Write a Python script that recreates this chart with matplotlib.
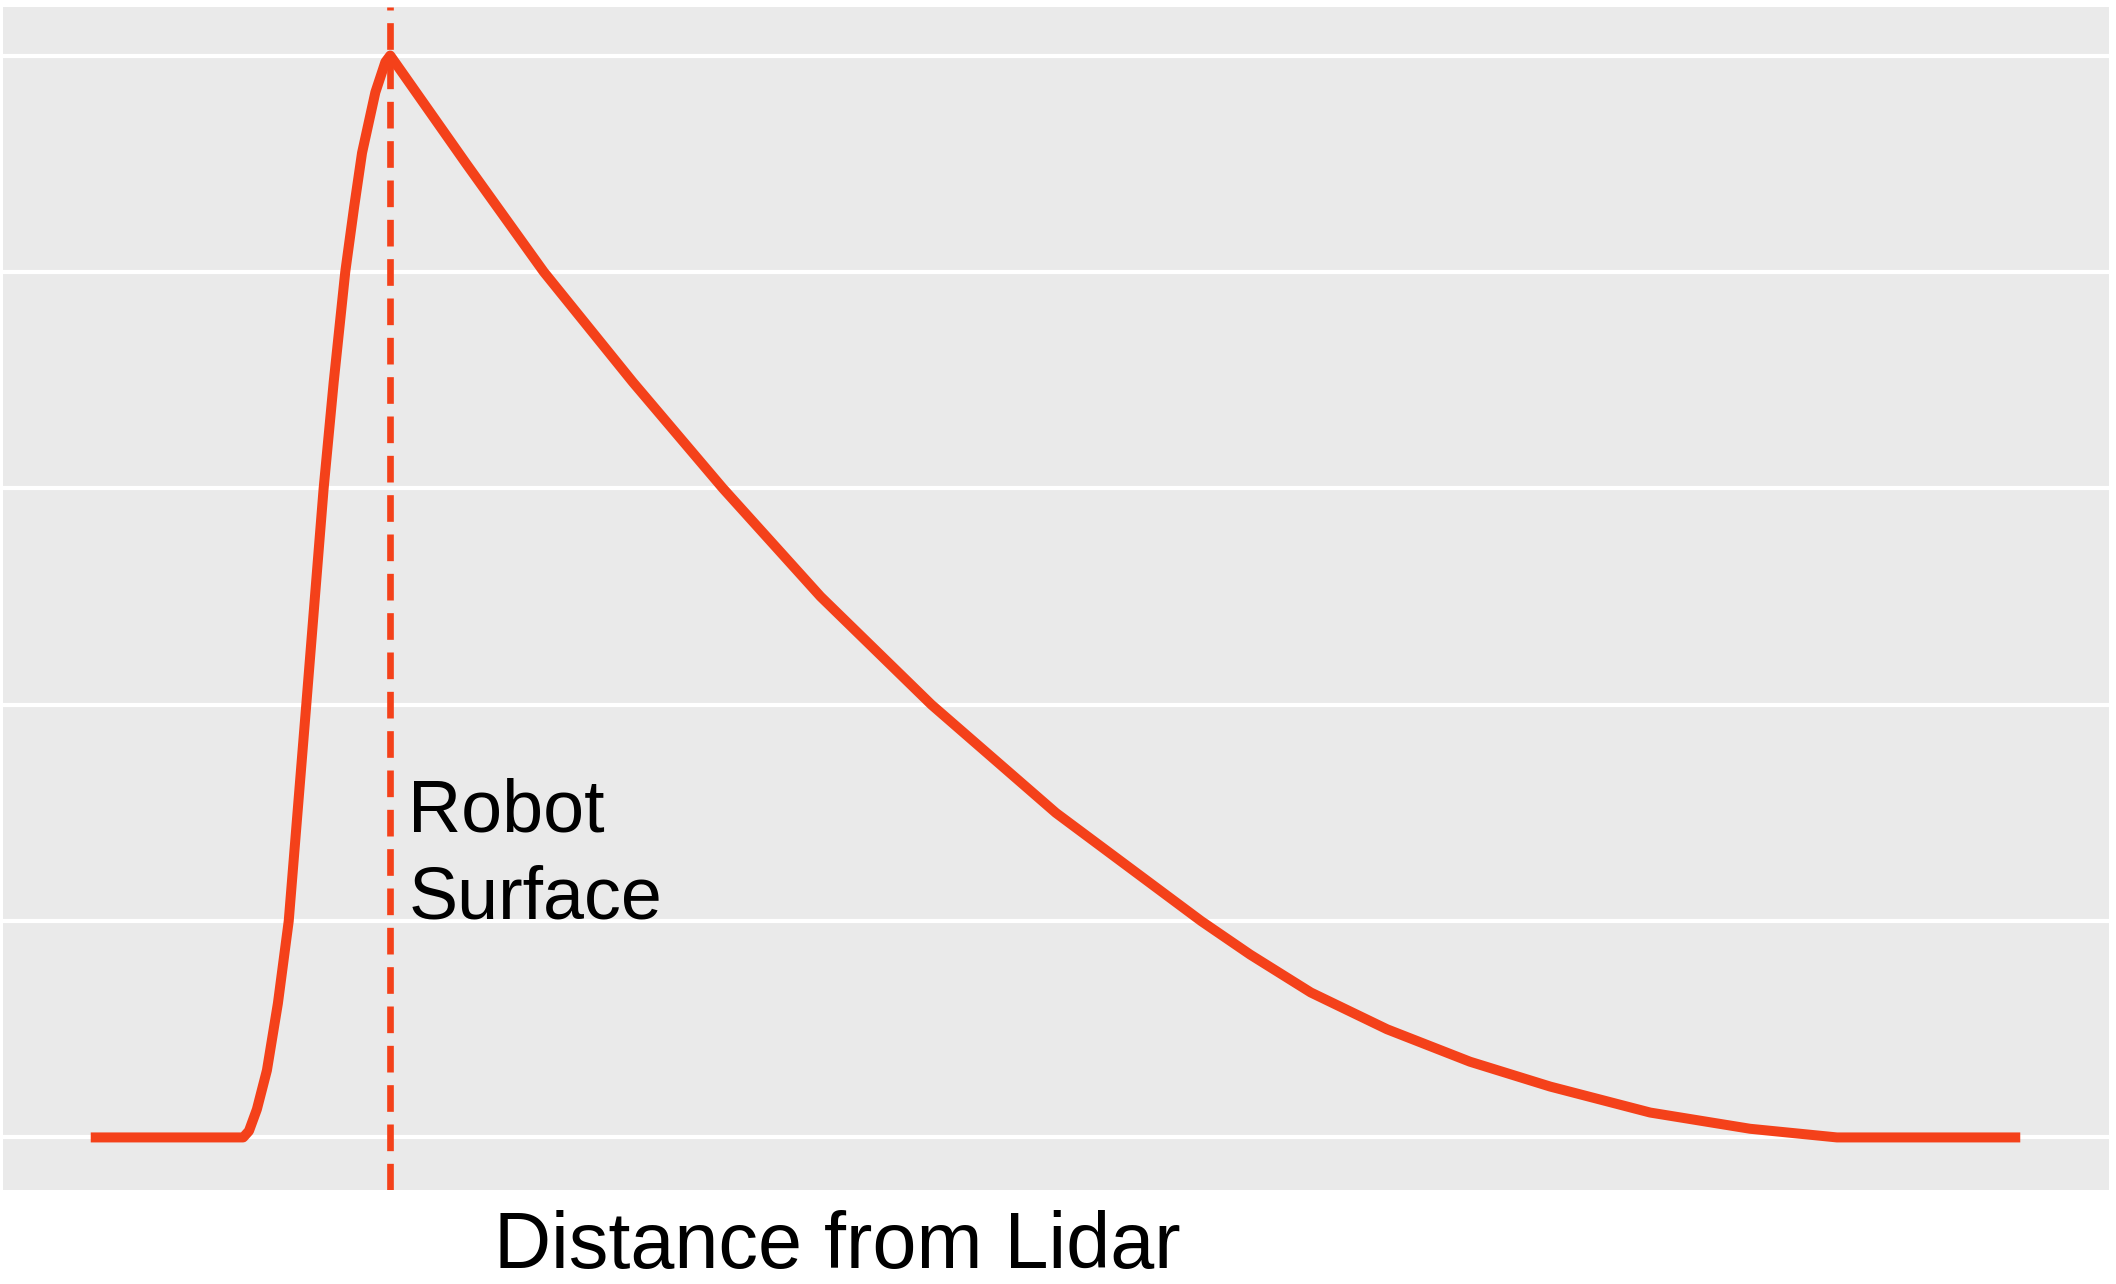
import numpy as np
import matplotlib
matplotlib.use("Agg")
import matplotlib.pyplot as plt

#-----Data-----#
# rising edge of the return pulse
RiseX = [0.00, 0.79, 0.82, 0.861, 0.913, 0.97, 1.026, 1.117, 1.207, 1.259, 1.319, 1.365, 1.406, 1.475, 1.527, 1.552]
RiseY = [0.00, 0.00, 0.03, 0.13, 0.31, 0.62, 1.00, 2.00, 3.00, 3.49, 4.00, 4.30, 4.55, 4.83, 4.97, 5.00]
# decaying tail
DecayX = [1.946, 2.348, 2.810, 3.276, 3.782, 4.357, 5.002, 5.755, 6.009, 6.323, 6.718, 7.148, 7.564, 8.082, 8.60, 9.05, 10.0]
DecayY = [4.50, 4.00, 3.49, 3.00, 2.50, 2.00, 1.50, 1.00, 0.845, 0.67, 0.50, 0.35, 0.235, 0.115, 0.04, 0.00, 0.00]

SurfaceX = 1.552
SurfaceLabel = "Robot\nSurface"
XLabel = "Distance from Lidar"
GridLevels = [0, 1, 2, 3, 4, 5]

LineColor = "#F4411A"
FontName = ["Liberation Sans", "DejaVu Sans"]

#-----Plot-----#
Fig = plt.figure(figsize=(21.16, 12.84), dpi=100)
Ax = Fig.add_axes([0.0014, 0.0732, 0.9953, 0.9213])
Ax.set_facecolor("#EAEAEA")

for Level in GridLevels:
    Ax.axhline(Level, color="white", linewidth=3.0, zorder=1)

X = RiseX + DecayX
Y = RiseY + DecayY
Ax.plot(X, Y, color=LineColor, linewidth=7.2, solid_capstyle="butt",
        solid_joinstyle="round", zorder=3)
Ax.axvline(SurfaceX, color=LineColor, linewidth=4.8, dashes=(4.0, 1.9), zorder=2)

Ax.text(1.645, 0.943, SurfaceLabel, fontsize=53, family=FontName,
        ha="left", va="bottom", linespacing=1.34, zorder=4)

Ax.set_xlim(-0.455, 10.46)
Ax.set_ylim(-0.243, 5.224)
Ax.set_xticks([])
Ax.set_yticks([])
for Spine in Ax.spines.values():
    Spine.set_visible(False)

Fig.text(0.3955, 0.0125, XLabel, fontsize=57, family=FontName, ha="center", va="baseline")

Fig.savefig("out.png", dpi=100)
